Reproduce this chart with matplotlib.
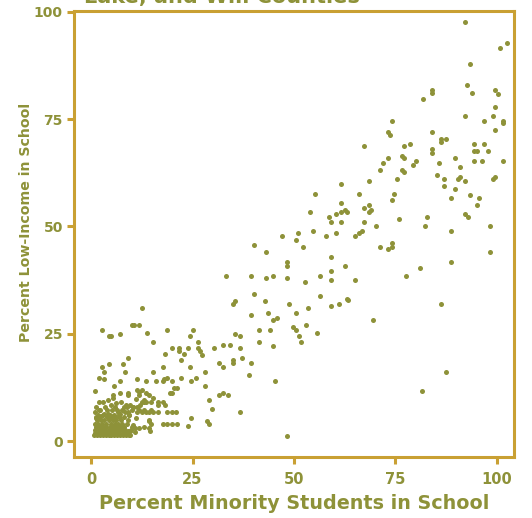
import numpy as np
import matplotlib
matplotlib.use("Agg")
import matplotlib.pyplot as plt

OLIVE = "#8E9239"
GOLD = "#C9A033"

# (percent minority, percent low-income) per school, grouped by area of the plot
schools_core = [
    (0.8, 1.4), (1.5, 1.4), (2.2, 1.4), (2.9, 1.4), (3.6, 1.4), (4.3, 1.4), (5.0, 1.4),
    (5.7, 1.4), (6.4, 1.4), (7.1, 1.4), (7.8, 1.4), (8.5, 1.4), (9.3, 1.4),
    (0.9, 2.0), (1.7, 2.0), (2.5, 2.0), (3.3, 2.0), (4.0, 2.0), (4.8, 2.0), (5.6, 2.0),
    (6.3, 2.0), (7.0, 2.0), (7.9, 2.0), (8.7, 2.0),
    (1.0, 2.7), (1.9, 2.7), (2.7, 2.7), (3.5, 2.7), (4.4, 2.7), (5.2, 2.7), (6.0, 2.7),
    (6.8, 2.7), (7.6, 2.7), (8.4, 2.7), (9.8, 2.7),
    (1.2, 3.4), (2.1, 3.4), (3.0, 3.4), (3.8, 3.4), (4.6, 3.4), (5.5, 3.4), (6.4, 3.4),
    (7.2, 3.4), (8.1, 3.4), (10.1, 3.4),
    (0.9, 4.1), (1.8, 4.1), (2.8, 4.1), (3.7, 4.1), (4.9, 4.1), (5.8, 4.1), (6.7, 4.1),
    (7.7, 4.1), (8.8, 4.1),
    (1.4, 4.9), (2.4, 4.9), (3.3, 4.9), (4.3, 4.9), (5.3, 4.9), (6.2, 4.9), (7.4, 4.9),
    (9.2, 4.9),
    (1.1, 5.6), (2.0, 5.6), (3.9, 5.6), (5.0, 5.6), (6.0, 5.6), (7.0, 5.6), (8.1, 5.6),
    (1.6, 6.2), (2.9, 6.2), (4.6, 6.2), (5.7, 6.2), (6.8, 6.2), (9.4, 6.2),
    (2.2, 7.3), (4.0, 7.3), (5.2, 7.3), (6.3, 7.3), (7.7, 7.3),
    (1.3, 7.9), (3.5, 7.9), (5.9, 7.9), (8.8, 7.9),
]

schools_low = [
    (5.6, 12.8), (7.2, 13.9), (11.3, 14.5), (13.5, 13.9), (16.0, 13.9), (17.7, 13.9),
    (20.0, 13.9), (24.6, 13.9), (0.9, 11.6), (5.5, 10.7), (5.5, 10.1), (7.2, 11.1),
    (9.0, 11.1), (9.0, 10.7), (11.3, 11.9), (11.9, 11.4), (12.5, 11.9), (11.9, 10.7),
    (13.6, 11.1), (14.2, 10.7), (19.4, 11.1), (20.0, 11.1), (20.5, 12.3), (21.1, 12.3),
    (3.0, 9.0), (4.8, 8.5), (8.0, 8.0), (9.6, 8.5), (10.4, 8.0), (12.5, 9.0), (13.1, 9.0),
    (13.6, 9.0), (14.8, 9.0), (16.5, 8.5), (16.5, 9.0), (17.7, 9.0), (18.3, 8.5),
    (12.0, 8.5), (11.3, 8.0), (0.9, 6.7), (2.5, 5.8), (3.2, 6.4), (4.2, 6.4), (6.6, 6.7),
    (7.2, 6.4), (8.3, 6.7), (9.0, 6.7), (10.2, 7.2), (11.3, 6.7), (12.5, 6.7), (13.1, 7.2),
    (14.3, 6.7), (14.8, 7.2), (15.3, 6.7), (16.5, 6.7), (18.8, 6.7), (20.0, 6.7),
    (21.0, 6.7), (17.7, 4.1), (18.7, 4.1), (20.0, 4.1), (21.2, 4.1), (14.2, 4.7),
    (14.8, 4.1), (14.6, 2.3), (14.2, 3.0), (10.8, 3.0), (9.0, 2.3), (9.7, 2.3), (24.0, 3.5),
    (24.6, 5.3), (7.3, 9.1), (11.7, 3.0), (10.9, 2.2), (9.6, 1.4), (11.1, 9.9), (13.1, 9.6),
    (15.2, 10.0), (8.6, 8.4), (10.3, 8.0), (11.9, 7.2), (13.5, 6.8), (9.4, 6.1), (11.1, 5.3),
    (14.4, 4.9), (13.1, 3.3), (10.3, 3.7), (2.0, 7.2), (1.2, 5.3), (2.0, 9.2), (4.1, 9.6),
    (6.2, 8.8),
    (12.5, 30.9), (10.0, 27.0), (10.6, 27.0), (11.9, 27.0), (2.6, 25.8), (4.4, 24.4),
    (5.0, 24.4), (7.2, 24.9), (13.7, 25.3), (15.3, 23.2), (18.8, 25.8), (18.1, 20.4),
    (20.0, 21.6), (21.7, 21.6), (21.7, 21.1), (22.2, 18.8), (22.8, 20.4), (24.0, 21.6),
    (24.5, 24.4), (25.2, 25.8), (26.3, 23.2), (26.3, 21.6), (9.0, 19.3), (7.8, 17.9),
    (4.4, 17.9), (2.6, 17.2), (3.2, 16.0), (8.4, 16.0), (1.9, 14.8), (3.2, 14.4),
    (15.3, 16.0), (17.7, 17.2), (24.5, 17.2), (25.8, 14.8), (18.8, 14.8), (18.0, 14.4),
    (22.2, 14.8),
]

schools_mid = [
    (86.2, 31.9), (69.5, 28.1), (87.4, 16.0), (81.6, 11.6), (48.2, 1.3), (34.9, 31.9),
    (35.5, 32.6), (42.9, 32.6), (48.8, 31.9), (53.5, 30.9), (59.2, 31.4), (61.0, 31.9),
    (63.2, 32.9), (39.5, 29.3), (43.6, 29.8), (50.5, 29.8), (44.8, 28.1), (45.9, 28.6),
    (41.3, 25.8), (44.2, 25.8), (49.8, 26.5), (50.5, 25.8), (52.9, 27.0), (55.7, 25.3),
    (51.2, 24.4), (51.7, 23.2), (41.3, 23.2), (35.5, 24.9), (36.7, 24.4), (44.8, 22.1),
    (36.7, 21.6), (32.6, 22.5), (34.3, 22.5), (30.2, 21.6), (26.8, 21.1), (27.4, 20.0),
    (37.3, 19.3), (34.9, 18.8), (34.9, 18.1), (31.4, 18.1), (32.6, 17.2), (39.5, 18.1),
    (39.0, 15.5), (28.0, 16.0), (45.4, 13.9), (28.0, 12.8), (31.4, 10.7), (32.6, 11.1),
    (33.7, 10.7), (29.1, 9.5), (29.7, 7.4), (36.7, 6.7), (28.6, 4.6), (29.1, 4.1),
    (55.2, 57.5), (53.9, 53.3), (58.6, 52.1), (60.4, 52.8), (59.2, 51.0), (54.6, 48.9),
    (51.1, 48.4), (57.9, 47.7), (60.4, 48.4), (47.0, 47.7), (50.4, 46.8), (52.3, 45.2),
    (40.1, 45.6), (43.0, 44.0), (59.2, 42.8), (48.2, 41.7), (48.2, 40.7), (33.3, 38.4),
    (39.5, 38.4), (43.0, 37.9), (44.8, 38.4), (48.2, 37.9), (56.3, 38.4), (59.2, 39.6),
    (59.2, 37.5), (52.8, 37.0), (40.1, 34.2), (56.3, 33.7),
]

schools_high = [
    (92.1, 97.6), (102.4, 92.7), (100.8, 91.5), (93.3, 87.8), (92.7, 82.9), (93.8, 81.0),
    (99.6, 81.7), (100.2, 80.8), (84.1, 81.7), (84.1, 81.0), (81.7, 79.6), (99.6, 77.8),
    (92.1, 75.7), (96.8, 74.5), (99.0, 75.7), (101.4, 74.5), (101.4, 74.1), (99.6, 72.4),
    (74.1, 74.5), (73.2, 72.0), (73.6, 71.3), (84.1, 72.0), (86.3, 70.3), (86.3, 69.6),
    (87.5, 70.3), (67.3, 68.7), (77.2, 68.7), (78.7, 69.2), (84.1, 68.0), (84.1, 67.1),
    (94.4, 69.2), (96.8, 69.2), (94.4, 67.5), (95.0, 67.5), (97.9, 67.5), (73.2, 65.9),
    (76.5, 66.4), (77.2, 65.9), (80.0, 65.3), (89.7, 65.9), (94.4, 65.3), (96.2, 65.3),
    (101.4, 65.3),
    (71.9, 64.7), (79.3, 64.3), (85.7, 64.7), (91.0, 63.8), (71.3, 63.1), (76.5, 63.1),
    (77.2, 62.6), (85.2, 61.9), (86.9, 61.0), (90.3, 61.0), (91.0, 61.5), (92.1, 60.5),
    (99.0, 61.0), (99.6, 61.5), (75.4, 61.0), (68.5, 60.5), (61.6, 59.8), (86.9, 59.4),
    (89.7, 58.7), (66.1, 57.6), (74.7, 57.5), (74.1, 56.1), (93.3, 57.3), (88.7, 56.6),
    (95.6, 56.6), (95.0, 54.9), (61.6, 55.4), (68.5, 54.9), (67.3, 54.2), (69.0, 53.8),
    (68.5, 53.3), (61.6, 53.3), (62.6, 53.8), (63.1, 53.3), (92.1, 52.8), (92.8, 52.1),
    (75.9, 51.7), (82.8, 52.1), (61.6, 51.0), (67.3, 51.0), (70.1, 50.0), (82.3, 50.0),
    (98.4, 50.0), (66.7, 49.0), (66.1, 48.4), (65.0, 47.7), (88.7, 48.9), (74.1, 46.1),
    (74.1, 45.2), (73.2, 44.7), (71.3, 45.2), (98.4, 44.0), (62.6, 40.7), (88.7, 41.7),
    (81.1, 40.3), (77.6, 38.4), (65.0, 37.5), (63.1, 33.2),
]

ticks = [0, 25, 50, 75, 100]
tick_labels = ["0", "25", "50", "75", "100"]
title_line = "Lake, and Will Counties"
x_title = "Percent Minority Students in School"
y_title = "Percent Low-Income in School"

points = np.array(schools_core + schools_low + schools_mid + schools_high)

fig = plt.figure(figsize=(5.32, 5.18), dpi=100)
ax = fig.add_axes([74 / 532, 1 - 457 / 518, 440 / 532, 446 / 518])

ax.scatter(points[:, 0], points[:, 1], s=13, color=OLIVE, linewidths=0, zorder=3)

ax.set_xlim(-4.2, 104.2)
ax.set_ylim(-3.7, 100.2)

for side in ax.spines.values():
    side.set_color(GOLD)
    side.set_linewidth(2.2)

ax.set_xticks(ticks)
ax.set_xticklabels(tick_labels)
ax.set_yticks(ticks)
ax.set_yticklabels(tick_labels)
ax.tick_params(axis="both", direction="out", length=5, width=2.2, color=GOLD, labelcolor=OLIVE)
ax.tick_params(axis="x", pad=6)
ax.tick_params(axis="y", pad=3)

for lab in ax.get_xticklabels():
    lab.set_fontsize(10.5)
    lab.set_fontweight("bold")
for lab in ax.get_yticklabels():
    lab.set_fontsize(10)
    lab.set_fontweight("bold")

ax.set_xlabel(x_title, fontsize=13.8, fontweight="bold", color=OLIVE, labelpad=5)
ax.set_ylabel(y_title, fontsize=10.2, fontweight="bold", color=OLIVE)
ax.yaxis.set_label_coords(-0.093, 0.525)

fig.text(0.417, 1 - 3 / 518, title_line, ha="center", va="baseline",
         fontsize=15, fontweight="bold", color=OLIVE)

fig.savefig("out.png", dpi=100)
